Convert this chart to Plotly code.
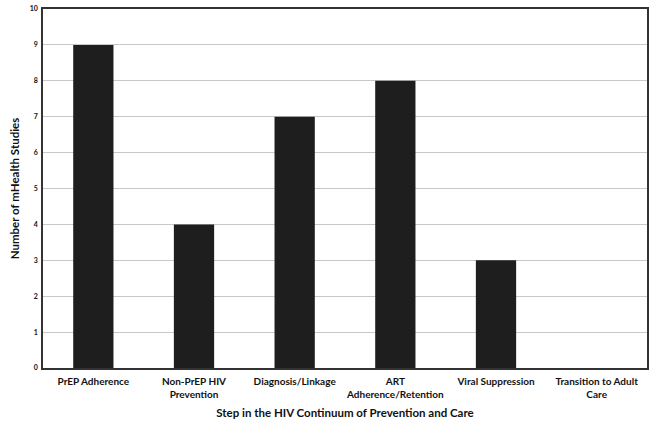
import plotly.graph_objects as go

categories = ["PrEP Adherence", "Non-PrEP HIV<br>Prevention", "Diagnosis/Linkage",
              "ART<br>Adherence/Retention", "Viral Suppression", "Transition to Adult<br>Care"]
studies = [9, 4, 7, 8, 3, 0]
y_ticks = list(range(0, 11))

fig = go.Figure(go.Bar(x=categories, y=studies, marker=dict(color="#1e1e1e", line=dict(width=0)),
                       width=0.4))
font = "Lato"
fig.update_layout(
    width=661, height=428,
    margin=dict(l=43, r=14, t=9, b=60),
    plot_bgcolor="white", paper_bgcolor="white",
    showlegend=False,
    font=dict(family=font, color="#111"),
)
fig.update_xaxes(
    showline=True, linecolor="#333", linewidth=1.5, mirror=True, automargin=False,
    tickfont=dict(size=10, family=font, weight="bold"), ticks="", tickangle=0, ticklabelstandoff=3,
    title=dict(text="<b>Step in the HIV Continuum of Prevention and Care</b>", font=dict(size=11.5, family=font), standoff=10),
)
fig.update_yaxes(
    range=[0, 10], tickvals=y_ticks, showline=True, linecolor="#333", linewidth=1.5, mirror=True, automargin=False,
    showgrid=True, gridcolor="#c8c8c8", gridwidth=1,
    tickfont=dict(size=7, family=font, weight="bold"), ticks="", ticklabelstandoff=2,
    title=dict(text="<b>Number of mHealth Studies</b>", font=dict(size=11.5, family=font), standoff=8),
)
fig.write_html("out.html", config={"displayModeBar": False}, post_script="document.body.style.margin='0';")
